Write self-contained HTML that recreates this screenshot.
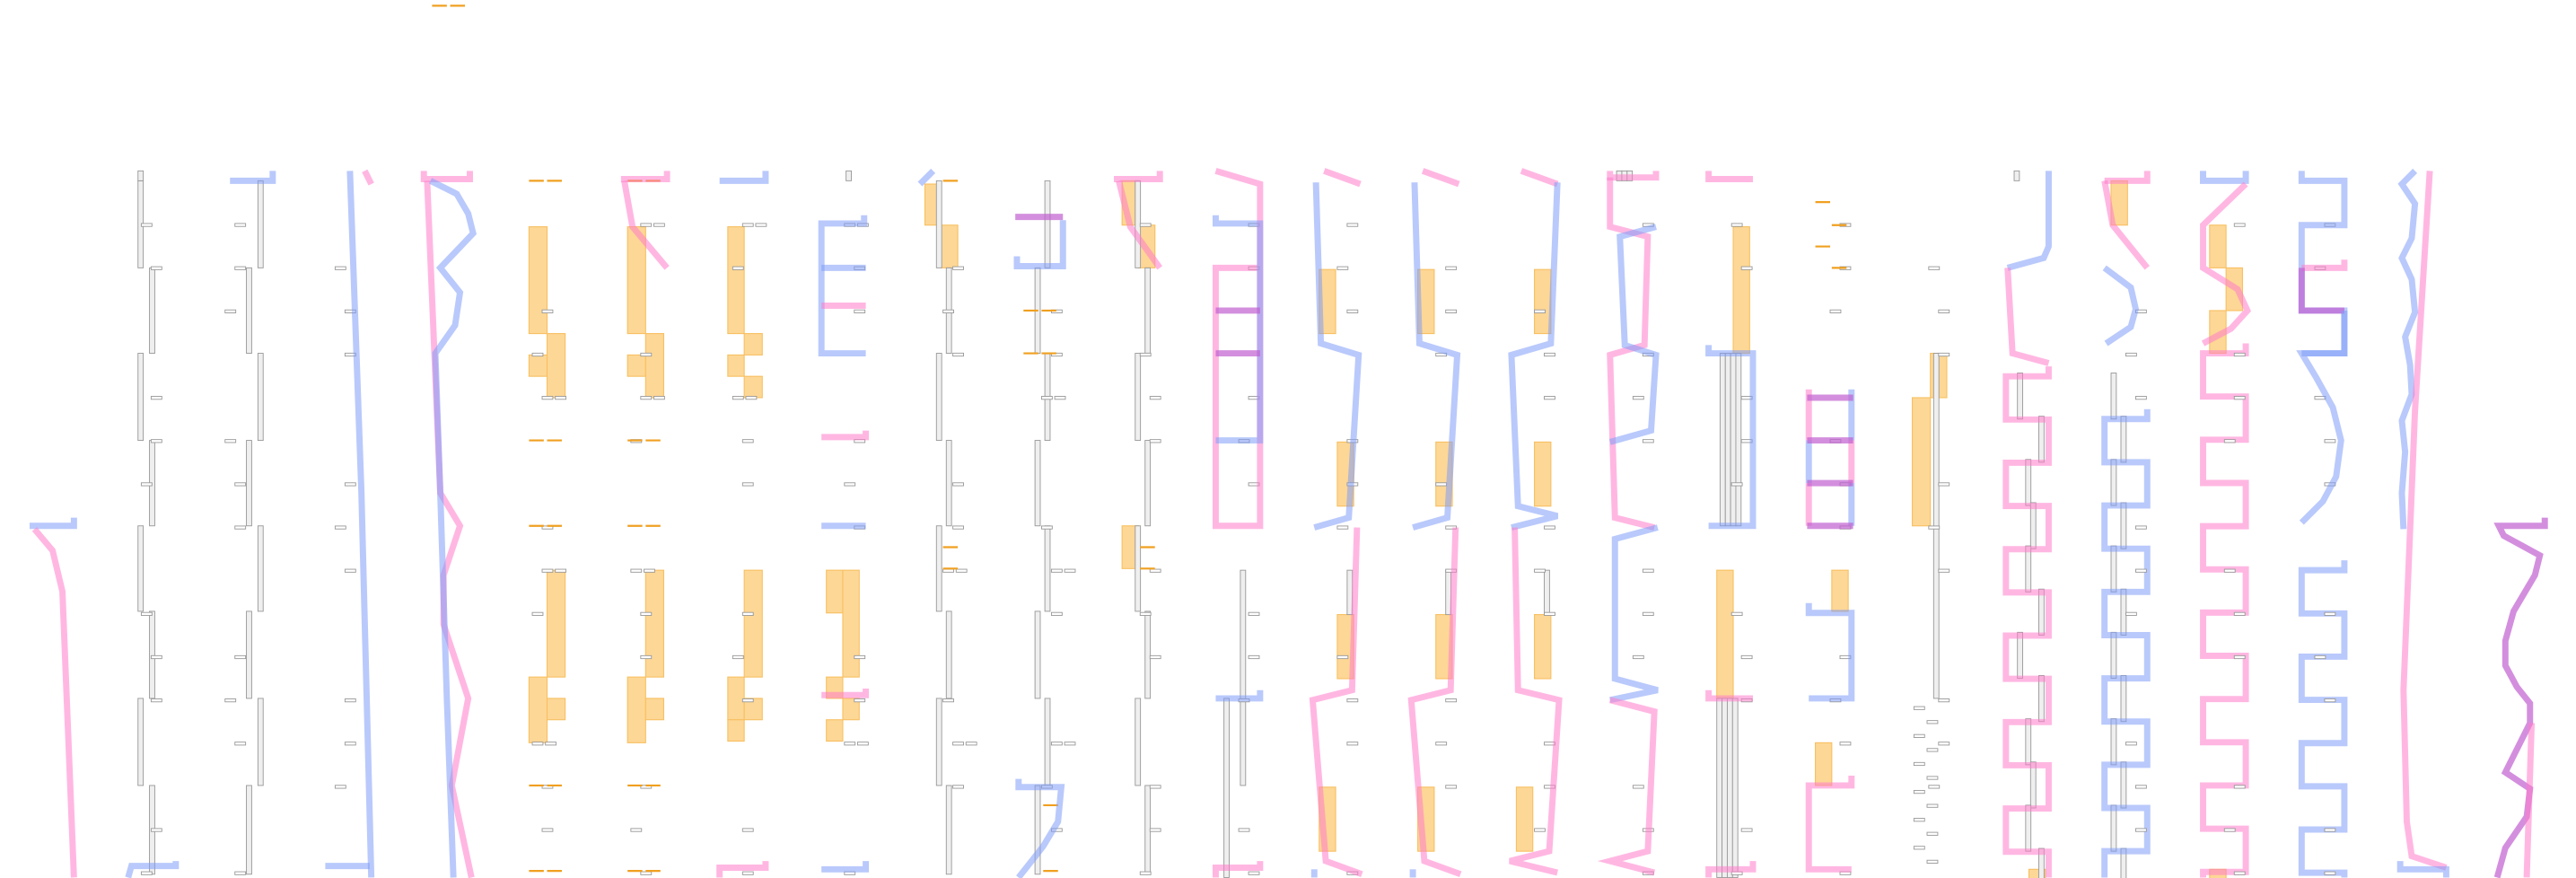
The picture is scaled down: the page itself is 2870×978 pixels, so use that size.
<!DOCTYPE html>
<html><head><meta charset="utf-8">
<style>
html,body{margin:0;padding:0;background:#fff;width:2870px;height:978px;overflow:hidden;font-family:"Liberation Sans",sans-serif}
svg{display:block}
.b{fill:none;stroke:#7f9cf7;stroke-opacity:.55;stroke-width:3.8;stroke-linejoin:miter}
.p{fill:none;stroke:#ff7ccb;stroke-opacity:.55;stroke-width:3.8;stroke-linejoin:miter}
.u{fill:none;stroke:#c060d0;stroke-opacity:.7;stroke-width:3.8}
.o{fill:#fdd590;stroke:#f7c062;stroke-width:.6;fill-opacity:.95}
.od{stroke:#f0a020;stroke-width:1.2}
.g{fill:#efefef;stroke:#999;stroke-width:.5}
.l{fill:#fff;stroke:#999;stroke-width:.5}
</style></head><body>
<svg id="s" width="2870" height="978" viewBox="0 0 1568 534.3" preserveAspectRatio="none" xmlns="http://www.w3.org/2000/svg">
<g id="orng">
<line class="od" x1="263" y1="3.5" x2="272" y2="3.5"/><line class="od" x1="274" y1="3.5" x2="283" y2="3.5"/>
<rect class="o" x="322" y="138" width="11" height="65"/><rect class="o" x="322" y="216" width="11" height="13"/>
<rect class="o" x="333" y="203" width="11" height="39"/><rect class="o" x="333" y="347" width="11" height="65"/>
<rect class="o" x="322" y="412" width="11" height="40"/><rect class="o" x="333" y="425" width="11" height="13"/>
<rect class="o" x="382" y="138" width="11" height="65"/><rect class="o" x="382" y="216" width="11" height="13"/>
<rect class="o" x="393" y="203" width="11" height="39"/><rect class="o" x="393" y="347" width="11" height="65"/>
<rect class="o" x="382" y="412" width="11" height="40"/><rect class="o" x="393" y="425" width="11" height="13"/>
<rect class="o" x="443" y="138" width="10" height="65"/><rect class="o" x="453" y="203" width="11" height="13"/>
<rect class="o" x="443" y="216" width="10" height="13"/><rect class="o" x="453" y="229" width="11" height="13"/>
<rect class="o" x="453" y="347" width="11" height="65"/><rect class="o" x="443" y="412" width="10" height="26"/>
<rect class="o" x="453" y="425" width="11" height="13"/><rect class="o" x="443" y="438" width="10" height="13"/>
<rect class="o" x="503" y="347" width="10" height="26"/><rect class="o" x="513" y="347" width="10" height="65"/>
<rect class="o" x="503" y="412" width="10" height="13"/><rect class="o" x="513" y="425" width="10" height="13"/><rect class="o" x="503" y="438" width="10" height="13"/>
<rect class="o" x="563" y="112" width="10" height="25"/><rect class="o" x="573" y="137" width="10" height="26"/>
<rect class="o" x="683" y="110" width="10" height="27"/><rect class="o" x="693" y="137" width="10" height="26"/>
<rect class="o" x="683" y="320" width="10" height="26"/>
<rect class="o" x="803" y="164" width="10" height="39"/><rect class="o" x="814" y="269" width="10" height="39"/>
<rect class="o" x="814" y="374" width="10" height="39"/><rect class="o" x="803" y="479" width="10" height="39"/>
<rect class="o" x="863" y="164" width="10" height="39"/><rect class="o" x="874" y="269" width="10" height="39"/>
<rect class="o" x="874" y="374" width="10" height="39"/><rect class="o" x="863" y="479" width="10" height="39"/>
<rect class="o" x="934" y="164" width="10" height="39"/><rect class="o" x="934" y="269" width="10" height="39"/>
<rect class="o" x="934" y="374" width="10" height="39"/><rect class="o" x="923" y="479" width="10" height="39"/>
<rect class="o" x="1055" y="138" width="10" height="77"/><rect class="o" x="1045" y="347" width="10" height="78"/>
<rect class="o" x="1115" y="347" width="10" height="25"/><rect class="o" x="1105" y="452" width="10" height="26"/>
<rect class="o" x="1175" y="215" width="10" height="27"/><rect class="o" x="1164" y="242" width="11" height="78"/>
<rect class="o" x="1235" y="529" width="10" height="6"/>
<rect class="o" x="1285" y="110" width="10" height="27"/>
<rect class="o" x="1345" y="137" width="10" height="26"/><rect class="o" x="1355" y="163" width="10" height="26"/><rect class="o" x="1345" y="189" width="10" height="26"/>
<rect class="o" x="1345" y="529" width="10" height="6"/>
</g>
<g id="gen"></g>
<g id="lines">
<polyline class="b" points="45,315 45,320 18,320"/>
<polyline class="p" points="21,322 32,335 38,360 45,534"/>
<polyline class="b" points="78,534 80,527 107,527 107,524"/>
<polyline class="b" points="140,110 166,110 166,104"/>
<polyline class="b" points="213,104 220,300 226,534"/>
<polyline class="p" points="222,104 226,112"/>
<polyline class="b" points="198,527 225,527"/>
<polyline class="p" points="258,104 258,109 286,109 286,104"/>
<polyline class="p" points="260,110 268,300 280,320 270,350 270,380 285,425 275,478 287,534"/>
<polyline class="b" points="262,110 278,118 285,130 288,142 268,163 280,178 277,198 265,215 268,300 272,425 276,534"/>
<polyline class="p" points="378,109 406,109 406,104"/>
<polyline class="p" points="380,110 385,138 406,163"/>
<polyline class="b" points="438,110 466,110 466,104"/>
<polyline class="p" points="438,534 438,528 466,528 466,524"/>
<polyline class="b" points="526,131 526,136 500,136 500,215 527,215"/>
<polyline class="b" points="500,163 527,163"/>
<polyline class="p" points="500,186 527,186"/>
<polyline class="p" points="500,266 527,266 527,262"/>
<polyline class="b" points="500,320 527,320"/>
<polyline class="p" points="500,423 527,423 527,419"/>
<polyline class="b" points="500,529 527,529 527,524"/>
<polyline class="b" points="560,112 568,104"/>
<polyline class="u" points="618,132 647,132"/>
<polyline class="b" points="647,134 647,162 619,162 619,156"/>
<polyline class="b" points="620,474 620,479 646,479 644,500 635,515 620,534"/>
<polyline class="p" points="678,109 706,109 706,104"/>
<polyline class="p" points="681,110 688,138 706,163"/>
<polyline class="p" points="740,104 767,112 767,320 740,320 740,163 767,163"/>
<polyline class="b" points="740,131 740,136 767,136 767,268 740,268"/>
<polyline class="u" points="740,189 767,189"/><polyline class="u" points="740,215 767,215"/>
<polyline class="b" points="740,425 767,425 767,420"/>
<polyline class="p" points="740,534 740,528 767,528 767,524"/>
<!-- col13 -->
<polyline class="p" points="806,104 828,112"/>
<polyline class="b" points="801,111 804,209 827,216 821,315 800,321"/>
<polyline class="p" points="826,321 823,420 799,426 807,524 829,532"/>
<polyline class="b" points="800,534 800,529"/>
<!-- col14 -->
<polyline class="p" points="866,104 888,112"/>
<polyline class="b" points="861,111 864,209 887,216 881,315 860,321"/>
<polyline class="p" points="886,321 883,420 859,426 867,524 889,532"/>
<polyline class="b" points="860,534 860,529"/>
<!-- col15 -->
<polyline class="p" points="926,104 948,112"/>
<polyline class="b" points="948,111 944,209 920,216 924,308 948,314 920,321"/>
<polyline class="p" points="922,321 924,420 949,426 943,518 919,524 948,531"/>
<!-- col16 -->
<polyline class="p" points="980,104 980,108 1008,108 1008,104"/>
<polyline class="p" points="980,108 980,138 1003,144 1001,210 980,216 983,315 1007,321"/>
<polyline class="b" points="1008,138 986,144 989,210 1008,216 1005,262 980,269"/>
<polyline class="b" points="1009,321 983,328 983,413 1009,420 980,426"/>
<polyline class="p" points="980,426 1007,433 1003,518 980,524 1007,531"/>
<!-- col17 -->
<polyline class="p" points="1040,104 1040,109 1067,109"/>
<polyline class="b" points="1040,210 1040,215 1067,215 1067,320 1040,320"/>
<polyline class="p" points="1040,420 1040,425 1067,425"/>
<polyline class="p" points="1067,524 1067,529 1040,529 1040,534"/>
<!-- col18 -->
<polyline class="p" points="1101,237 1101,268"/><polyline class="b" points="1101,268 1101,294"/><polyline class="p" points="1101,294 1101,320"/>
<polyline class="b" points="1127,237 1127,268"/><polyline class="p" points="1127,268 1127,294"/><polyline class="b" points="1127,294 1127,320"/>
<polyline class="u" points="1100,242 1128,242"/><polyline class="u" points="1100,268 1128,268"/><polyline class="u" points="1100,294 1128,294"/><polyline class="u" points="1100,320 1128,320"/>
<polyline class="b" points="1101,367 1101,373 1127,373 1127,425 1101,425"/>
<polyline class="p" points="1127,472 1127,478 1101,478 1101,529 1127,529"/>
<!-- col20-25 -->
<polyline class="b" points="1247,104 1247,150 1244,157 1222,163"/>
<polyline class="p" points="1222,163 1225,215 1247,221"/>
<polyline class="p" points="1281,110 1307,110 1307,104"/>
<polyline class="p" points="1281,110 1286,137 1307,163"/>
<polyline class="b" points="1281,163 1297,175 1300,188 1297,199 1282,209"/>
<polyline class="b" points="1341,104 1341,110 1367,110 1367,104"/>
<polyline class="p" points="1367,112 1341,137 1341,163 1362,176 1368,189 1358,200 1341,209"/>
<polyline class="b" points="1401,104 1401,110 1427,110 1427,137 1401,137 1401,189 1427,189 1427,215 1401,215"/>
<polyline class="p" points="1401,163 1427,163 1427,158"/>
<polyline class="u" points="1401,163 1401,189 1427,189"/>
<polyline class="b" points="1427,189 1427,215 1401,215 1410,230 1420,248 1425,268 1422,290 1414,305 1401,318"/>
<polyline class="b" points="1470,104 1462,112 1470,124 1468,145 1462,157 1468,170 1470,190 1464,205 1467,222 1468,240 1462,256 1464,275 1462,300 1463,322"/>
<polyline class="p" points="1479,104 1470,250 1463,420 1465,500 1468,521 1489,528"/>
<polyline class="b" points="1461,524 1461,529 1489,529 1489,534"/>
<polyline class="u" points="1549,315 1549,320 1521,320 1524,326 1546,338 1543,350 1530,372 1525,390 1525,405 1532,418 1540,428 1540,440 1530,460 1525,470 1540,480 1538,497 1525,516 1520,534"/>
<polyline class="p" points="1541,440 1538,534"/>
</g>
</svg>
<script>
(function(){
var NS="http://www.w3.org/2000/svg",g=document.getElementById('gen');
function el(t,a){var e=document.createElementNS(NS,t);for(var k in a)e.setAttribute(k,a[k]);g.appendChild(e);return e;}
function bar(x,y1,y2,n){n=n||1;for(var i=0;i<n;i++)el('rect',{'class':'g',x:x+i*3.2,y:y1,width:3.2,height:y2-y1});}
function lab(x,y){el('rect',{'class':'l',x:x,y:y,width:6.5,height:1.8});}
function wave(cls,L,R,y0,y1){var pts=[],y=y0,x=R;pts.push(R+','+(y0-6));pts.push(R+','+y0);
 while(y<y1-1){x=(x==R)?L:R;pts.push(x+','+y.toFixed(1));y=Math.min(y+26.3,534);pts.push(x+','+y.toFixed(1));}
 el('polyline',{'class':cls,points:pts.join(' ')});}
var rows=[110,163,215,268,320,372,425,478,532];
[[84,91],[150,157],[570,576],[630,636],[691,697]].forEach(function(c,ci){for(var r=0;r<8;r++){var x=c[(r+ci)%2];bar(x,rows[r],rows[r+1],1);}});
bar(84,104,110);bar(515,104,110);bar(755,347,478);bar(745,425,534);
bar(1047,215,320,4);bar(1045,425,534,4);bar(1177,215,425,1);bar(984,104,110,3);bar(1226,104,110);
bar(820,347,374);bar(880,347,374);bar(940,347,374);
for(var r=0;r<12;r++){var y=215+r*26.3;bar(1228+((r%3)?5:0)+(r%2?8:0),y+12,y+40);}
for(var r=0;r<12;r++){var y=215+r*26.3;bar(1285+(r%2?6:0),y+12,y+40);}
wave('p',1221,1247,229,529);
wave('b',1281,1307,255,534);
wave('p',1341,1367,215,534);
wave('b',1401,1427,347,534);
var lc=[92,143,210,330,390,452,520,580,640,700,760,820,880,940,1000,1060,1120,1180,1300,1360,1415];
for(var c=0;c<lc.length;c++){for(var r=0;r<16;r++){var y=136+r*26.3;var h=(c*7+r*3)%5;if(h==1||h==4)continue;var x=lc[c]+((r+c)%3==0?-6:0);lab(x,y);if(c>=3&&c<=8&&(r%4==0))lab(x+8,y);}}
for(var i=0;i<12;i++){lab(1165+(i%2?8:0),430+i*8.5);}
function od(x,y){el('line',{'class':'od',x1:x,y1:y,x2:x+9,y2:y});el('line',{'class':'od',x1:x+11,y1:y,x2:x+20,y2:y});}
[110,268,320,478,530].forEach(function(y){od(322,y);od(382,y);});
[189,215].forEach(function(y){od(623,y);});
function o1(x,y){el('line',{'class':'od',x1:x,y1:y,x2:x+9,y2:y});}
o1(574,110);o1(574,333);o1(574,346);o1(694,333);o1(694,346);o1(1105,123);o1(1115,137);o1(1105,150);o1(1115,163);o1(635,490);o1(635,530);
})();
</script>
</body></html>
